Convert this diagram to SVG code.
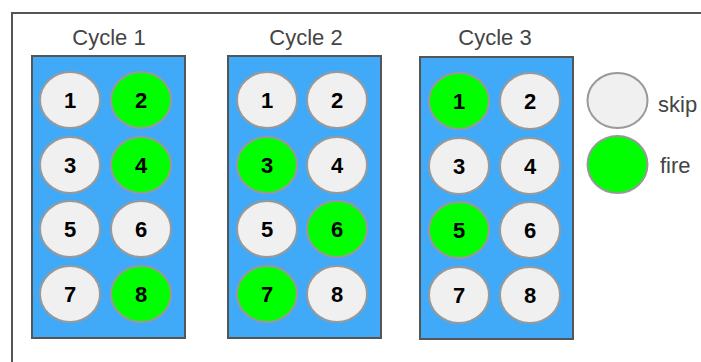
<svg xmlns="http://www.w3.org/2000/svg" width="701" height="362" viewBox="0 0 701 362">
<style>
.frame{fill:none;stroke:#555;stroke-width:2}
.panel{fill:#40aaf8;stroke:#555;stroke-width:2}
.skip{fill:#f0f0f0;stroke:#999;stroke-width:2}
.fire{fill:#00ff00;stroke:#999;stroke-width:2}
.num{font-family:"Liberation Sans",Arial,sans-serif;font-weight:bold;font-size:22px;fill:#000;text-anchor:middle}
.title{font-family:"Liberation Sans",Arial,sans-serif;font-size:22px;fill:#444;text-anchor:middle}
.leg{font-family:"Liberation Sans",Arial,sans-serif;font-size:22px;fill:#444}
</style>
<rect width="701" height="362" fill="#fff"/>
<path class="frame" d="M12,364 V13 H703"/>
<g id="cycle1">
<text class="title" x="109" y="45">Cycle 1</text>
<rect class="panel" x="32" y="56" width="153" height="282"/>
<g id="c1n1"><ellipse class="skip" cx="70" cy="100" rx="30" ry="28"/><text class="num" x="70" y="108">1</text></g>
<g id="c1n2"><ellipse class="fire" cx="141" cy="100" rx="30" ry="28"/><text class="num" x="141" y="108">2</text></g>
<g id="c1n3"><ellipse class="skip" cx="70" cy="165" rx="30" ry="28"/><text class="num" x="70" y="173">3</text></g>
<g id="c1n4"><ellipse class="fire" cx="141" cy="165" rx="30" ry="28"/><text class="num" x="141" y="173">4</text></g>
<g id="c1n5"><ellipse class="skip" cx="70" cy="229" rx="30" ry="28"/><text class="num" x="70" y="237">5</text></g>
<g id="c1n6"><ellipse class="skip" cx="141" cy="229" rx="30" ry="28"/><text class="num" x="141" y="237">6</text></g>
<g id="c1n7"><ellipse class="skip" cx="70" cy="294" rx="30" ry="28"/><text class="num" x="70" y="302">7</text></g>
<g id="c1n8"><ellipse class="fire" cx="141" cy="294" rx="30" ry="28"/><text class="num" x="141" y="302">8</text></g>
</g>
<g id="cycle2">
<text class="title" x="306" y="45">Cycle 2</text>
<rect class="panel" x="228" y="56" width="153" height="282"/>
<g id="c2n1"><ellipse class="skip" cx="267" cy="100" rx="30" ry="28"/><text class="num" x="267" y="108">1</text></g>
<g id="c2n2"><ellipse class="skip" cx="337" cy="100" rx="30" ry="28"/><text class="num" x="337" y="108">2</text></g>
<g id="c2n3"><ellipse class="fire" cx="267" cy="165" rx="30" ry="28"/><text class="num" x="267" y="173">3</text></g>
<g id="c2n4"><ellipse class="skip" cx="337" cy="165" rx="30" ry="28"/><text class="num" x="337" y="173">4</text></g>
<g id="c2n5"><ellipse class="skip" cx="267" cy="229" rx="30" ry="28"/><text class="num" x="267" y="237">5</text></g>
<g id="c2n6"><ellipse class="fire" cx="337" cy="229" rx="30" ry="28"/><text class="num" x="337" y="237">6</text></g>
<g id="c2n7"><ellipse class="fire" cx="267" cy="294" rx="30" ry="28"/><text class="num" x="267" y="302">7</text></g>
<g id="c2n8"><ellipse class="skip" cx="337" cy="294" rx="30" ry="28"/><text class="num" x="337" y="302">8</text></g>
</g>
<g id="cycle3">
<text class="title" x="495" y="45">Cycle 3</text>
<rect class="panel" x="420" y="57" width="153" height="282"/>
<g id="c3n1"><ellipse class="fire" cx="459" cy="101" rx="30" ry="28"/><text class="num" x="459" y="109">1</text></g>
<g id="c3n2"><ellipse class="skip" cx="530" cy="101" rx="30" ry="28"/><text class="num" x="530" y="109">2</text></g>
<g id="c3n3"><ellipse class="skip" cx="459" cy="166" rx="30" ry="28"/><text class="num" x="459" y="174">3</text></g>
<g id="c3n4"><ellipse class="skip" cx="530" cy="166" rx="30" ry="28"/><text class="num" x="530" y="174">4</text></g>
<g id="c3n5"><ellipse class="fire" cx="459" cy="230" rx="30" ry="28"/><text class="num" x="459" y="238">5</text></g>
<g id="c3n6"><ellipse class="skip" cx="530" cy="230" rx="30" ry="28"/><text class="num" x="530" y="238">6</text></g>
<g id="c3n7"><ellipse class="skip" cx="459" cy="295" rx="30" ry="28"/><text class="num" x="459" y="303">7</text></g>
<g id="c3n8"><ellipse class="skip" cx="530" cy="295" rx="30" ry="28"/><text class="num" x="530" y="303">8</text></g>
</g>
<g id="legend">
<g id="leg-skip"><ellipse class="skip" cx="617.500" cy="100.500" rx="30" ry="27.500"/><text class="leg" x="658" y="112">skip</text></g>
<g id="leg-fire"><ellipse class="fire" cx="617.500" cy="164.500" rx="30" ry="28.500"/><text class="leg" x="660" y="173">fire</text></g>
</g>
<g id="connectors"/>
</svg>
